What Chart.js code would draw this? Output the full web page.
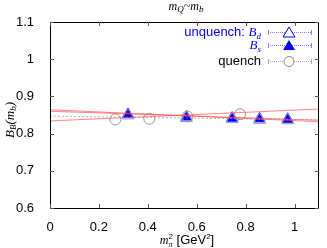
<!DOCTYPE html>
<html>
<head>
<meta charset="utf-8">
<script src="https://cdn.jsdelivr.net/npm/chart.js@4"></script>
<style>
  html, body { margin: 0; padding: 0; background: #fff; }
  #wrap { width: 327px; height: 248px; }
</style>
</head>
<body>
<div id="wrap"><canvas id="bChart"></canvas></div>
<script>
// m_pi^2 [GeV^2]
const bsX = [0.319, 0.558, 0.745, 0.857, 0.972];
const bsY = [0.852, 0.845, 0.842, 0.840, 0.839];
const bdY = [0.849, 0.842, 0.839, 0.837, 0.836];
const quenchX = [0.267, 0.406, 0.562, 0.777];
const quenchY = [0.838, 0.840, 0.846, 0.852];
// fit lines: values at x = 0 and x = 1.1
const fitX = [0, 1.1];
const fitA = [0.864, 0.832];
const fitB = [0.860, 0.836];
const fitC = [0.834, 0.866];
const fitQ = [0.847, 0.837];
const xTicks = [0, 0.2, 0.4, 0.6, 0.8, 1];
const yTicks = [0.6, 0.7, 0.8, 0.9, 1, 1.1];

const pts = (xs, ys) => xs.map((x, i) => ({ x: x, y: ys[i] }));

function fitLine(ys, color, dash) {
  return {
    data: pts(fitX, ys),
    showLine: true,
    borderColor: color,
    borderWidth: 1,
    borderDash: dash || [],
    pointRadius: 0,
  };
}

const SERIF = '"Liberation Serif", "DejaVu Serif", serif';
const SANS = '"Liberation Sans", Arial, sans-serif';

// draw a run of text pieces: [text, font, dy, noAdvance]
function drawRuns(c, runs, x, y, align) {
  let w = 0;
  runs.forEach(r => { c.font = r[1]; if (!r[3]) w += c.measureText(r[0]).width; });
  let cx = align === "right" ? x - w : align === "center" ? x - w / 2 : x;
  runs.forEach(r => {
    c.font = r[1];
    c.fillText(r[0], cx, y + (r[2] || 0));
    if (!r[3]) cx += c.measureText(r[0]).width;
  });
}

const decor = {
  id: "decor",
  afterDraw(chart) {
    const c = chart.ctx;
    const a = chart.chartArea;
    const xs = chart.scales.x, ys = chart.scales.y;
    c.save();
    // frame
    c.strokeStyle = "#000";
    c.lineWidth = 1;
    c.strokeRect(a.left + 0.5, a.top + 0.5, a.right - a.left - 1, a.bottom - a.top);
    // inward ticks
    c.strokeStyle = "#555";
    xTicks.forEach(v => {
      const px = Math.round(xs.getPixelForValue(v)) + 0.5;
      c.beginPath();
      c.moveTo(px, a.bottom); c.lineTo(px, a.bottom - 4);
      c.moveTo(px, a.top); c.lineTo(px, a.top + 4);
      c.stroke();
    });
    yTicks.forEach(v => {
      const py = Math.round(ys.getPixelForValue(v)) + 0.5;
      c.beginPath();
      c.moveTo(a.left, py); c.lineTo(a.left + 4, py);
      c.moveTo(a.right, py); c.lineTo(a.right - 4, py);
      c.stroke();
    });

    c.textBaseline = "alphabetic";
    c.fillStyle = "#000";
    // title
    drawRuns(c, [
      ["m", "italic 12px " + SERIF],
      ["Q", "italic 9px " + SERIF, 2],
      ["~m", "italic 12px " + SERIF],
      ["b", "italic 9px " + SERIF, 2],
    ], 186, 10, "center");
    // x title
    drawRuns(c, [
      ["m", "italic 12px " + SERIF],
      ["π", "italic 8px " + SERIF, 3, true],
      ["2", "8px " + SANS, -5],
      [" [GeV", "13px " + SANS],
      ["2", "8px " + SANS, -5],
      ["]", "13px " + SANS],
    ], 187, 244, "center");
    // y title
    c.save();
    c.translate(14, 120);
    c.rotate(-Math.PI / 2);
    drawRuns(c, [
      ["B", "italic 13px " + SERIF],
      ["B", "italic 9px " + SERIF, 2],
      ["(m", "italic 13px " + SERIF],
      ["b", "italic 9px " + SERIF, 2],
      [")", "italic 13px " + SERIF],
    ], 0, 0, "center");
    c.restore();

    // legend
    const rows = [
      { y: 32, marker: "open" },
      { y: 45, marker: "filled" },
      { y: 61, marker: "circle" },
    ];
    const lx0 = 268, lx1 = 311, mx = 289;
    c.fillStyle = "#0000ee";
    drawRuns(c, [
      ["unquench: ", "13px " + SANS],
      ["B", "italic 13px " + SERIF],
      ["d", "italic 9px " + SERIF, 3],
    ], 261, 36, "right");
    drawRuns(c, [
      ["B", "italic 13px " + SERIF],
      ["s", "italic 9px " + SERIF, 3],
    ], 261, 49, "right");
    c.fillStyle = "#000";
    drawRuns(c, [["quench", "13px " + SANS]], 261, 65, "right");
    rows.forEach(r => {
      const col = r.marker === "circle" ? "#aaa" : "#7f7fff";
      c.strokeStyle = col;
      c.lineWidth = 1;
      c.setLineDash([1, 1]);
      c.beginPath();
      c.moveTo(lx0, r.y + 0.5); c.lineTo(lx1, r.y + 0.5);
      c.stroke();
      c.setLineDash([]);
      c.beginPath();
      c.moveTo(lx0 + 0.5, r.y - 2); c.lineTo(lx0 + 0.5, r.y + 3);
      c.moveTo(lx1 + 0.5, r.y - 2); c.lineTo(lx1 + 0.5, r.y + 3);
      c.stroke();
      if (r.marker === "circle") {
        c.strokeStyle = "#888";
        c.fillStyle = "#fff";
        c.beginPath();
        c.arc(mx, r.y + 0.5, 5, 0, Math.PI * 2);
        c.fill();
        c.stroke();
      } else {
        c.beginPath();
        c.moveTo(mx, r.y - 5);
        c.lineTo(mx + 6, r.y + 5);
        c.lineTo(mx - 6, r.y + 5);
        c.closePath();
        if (r.marker === "filled") {
          c.fillStyle = "#0000ee";
          c.fill();
        } else {
          c.fillStyle = "#fff";
          c.fill();
          c.strokeStyle = "#0000ee";
          c.stroke();
        }
      }
    });
    c.restore();
  },
};

new Chart(document.getElementById("bChart"), {
  type: "scatter",
  data: {
    datasets: [
      fitLine(fitQ, "rgba(150,150,150,0.7)", [2, 2]),
      fitLine(fitA, "rgba(255,80,80,0.7)"),
      fitLine(fitB, "rgba(255,80,80,0.7)"),
      fitLine(fitC, "rgba(255,80,80,0.7)"),
      {
        data: pts(quenchX, quenchY),
        pointStyle: "circle",
        pointRadius: 5.5,
        borderColor: "#999",
        backgroundColor: "rgba(0,0,0,0)",
        borderWidth: 1,
      },
      {
        data: pts(bsX, bdY),
        pointStyle: "triangle",
        pointRadius: 7,
        borderColor: "#9090ff",
        backgroundColor: "rgba(0,0,0,0)",
        borderWidth: 1,
      },
      {
        data: pts(bsX, bsY),
        pointStyle: "triangle",
        pointRadius: 6.3,
        borderColor: "#0000ee",
        backgroundColor: "#0000ee",
        borderWidth: 1,
      },
    ],
  },
  options: {
    responsive: true,
    maintainAspectRatio: false,
    animation: false,
    layout: { padding: { top: 22, right: -1, left: 0, bottom: 0 } },
    scales: {
      x: {
        type: "linear",
        min: 0,
        max: 1.1,
        afterBuildTicks: s => { s.ticks = xTicks.map(v => ({ value: v })); },
        afterFit: s => { s.height = 40; s.paddingLeft = 0; s.paddingRight = 0; },
        grid: { display: false },
        border: { display: false },
        ticks: {
          color: "#000",
          padding: 4,
          font: { family: SANS, size: 13 },
          maxRotation: 0,
          callback: v => String(v),
        },
      },
      y: {
        min: 0.6,
        max: 1.1,
        afterBuildTicks: s => { s.ticks = yTicks.map(v => ({ value: v })); },
        afterFit: s => { s.width = 50; s.paddingTop = 0; s.paddingBottom = 0; },
        grid: { display: false },
        border: { display: false },
        ticks: {
          color: "#000",
          padding: 8,
          font: { family: SANS, size: 13 },
          callback: v => String(v),
        },
      },
    },
    plugins: {
      legend: { display: false },
      tooltip: { enabled: false },
    },
  },
  plugins: [decor],
});
</script>
</body>
</html>
